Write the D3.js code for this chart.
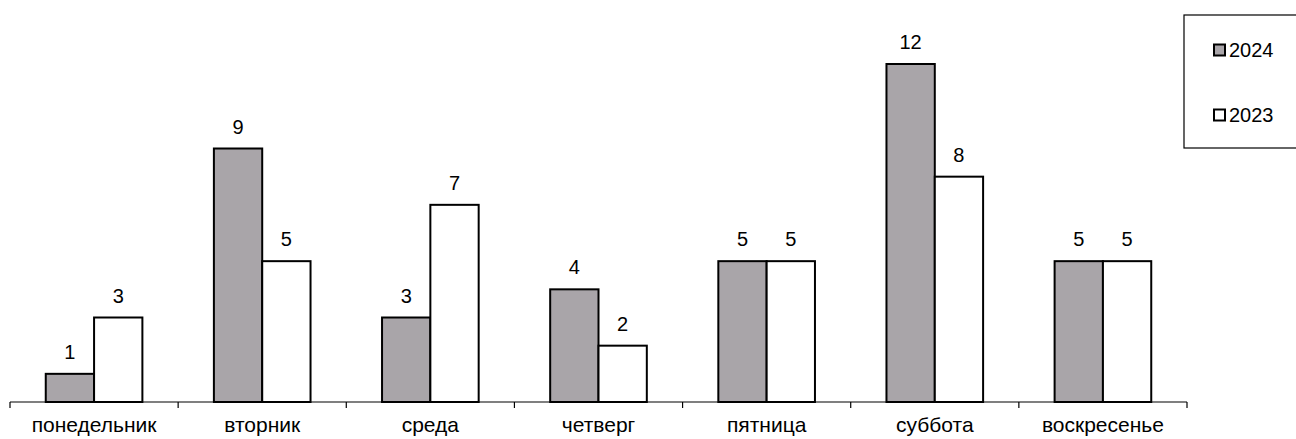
<!DOCTYPE html>
<html>
<head>
<meta charset="utf-8">
<script src="https://cdn.jsdelivr.net/npm/d3@7"></script>
<style>
  body { margin: 0; background: #fff; }
  text { font-family: "Liberation Sans", Arial, sans-serif; fill: #000; }
</style>
</head>
<body>
<svg id="chart" width="1296" height="439"></svg>
<script>
const days = ['понедельник', 'вторник', 'среда', 'четверг', 'пятница', 'суббота', 'воскресенье'];
const series = ['2024', '2023'];
const values2024 = [1, 9, 3, 4, 5, 12, 5];
const values2023 = [3, 5, 7, 2, 5, 8, 5];
const colors = ['#a9a5a9', '#ffffff'];

const data = days.map((d, i) => ({day: d, vals: [values2024[i], values2023[i]]}));

const svg = d3.select('#chart');

const x = d3.scaleBand().domain(days).range([10, 1187]);
const xs = d3.scaleBand().domain(series).range([0, x.bandwidth()]).paddingOuter(0.74);
const y = d3.scaleLinear().domain([0, 12]).range([402, 64]);

// bars
const grp = svg.selectAll('g.day')
  .data(data)
  .enter()
  .append('g')
  .attr('class', 'day')
  .attr('transform', d => 'translate(' + x(d.day) + ',0)');

grp.selectAll('rect')
  .data(d => d.vals.map((v, k) => ({s: series[k], v: v, k: k})))
  .enter()
  .append('rect')
  .attr('x', d => xs(d.s))
  .attr('y', d => y(d.v))
  .attr('width', xs.bandwidth())
  .attr('height', d => y(0) - y(d.v))
  .attr('fill', d => colors[d.k])
  .attr('stroke', '#000')
  .attr('stroke-width', 2);

grp.selectAll('text.val')
  .data(d => d.vals.map((v, k) => ({s: series[k], v: v})))
  .enter()
  .append('text')
  .attr('class', 'val')
  .attr('x', d => xs(d.s) + xs.bandwidth() / 2)
  .attr('y', d => y(d.v) - 15)
  .attr('text-anchor', 'middle')
  .attr('font-size', 20)
  .text(d => d.v);

// x axis
svg.append('line')
  .attr('x1', 10).attr('x2', 1187)
  .attr('y1', 402).attr('y2', 402)
  .attr('stroke', '#000').attr('stroke-width', 1.2);

const ticks = days.map(d => x(d)).concat([x.range()[1]]);
svg.selectAll('line.tick')
  .data(ticks)
  .enter()
  .append('line')
  .attr('class', 'tick')
  .attr('x1', d => d).attr('x2', d => d)
  .attr('y1', 402).attr('y2', 408)
  .attr('stroke', '#000').attr('stroke-width', 1.2);

svg.selectAll('text.cat')
  .data(days)
  .enter()
  .append('text')
  .attr('class', 'cat')
  .attr('x', d => x(d) + x.bandwidth() / 2)
  .attr('y', 432)
  .attr('text-anchor', 'middle')
  .attr('font-size', 21)
  .text(d => d);

// legend
const lg = svg.append('g');
lg.append('rect')
  .attr('x', 1184).attr('y', 15)
  .attr('width', 130).attr('height', 133)
  .attr('fill', '#fff').attr('stroke', '#000').attr('stroke-width', 1.2);

const items = lg.selectAll('g.item')
  .data(series)
  .enter()
  .append('g')
  .attr('class', 'item')
  .attr('transform', (d, i) => 'translate(1214,' + (50 + i * 65) + ')');

items.append('rect')
  .attr('x', 0).attr('y', -5.5)
  .attr('width', 11).attr('height', 11)
  .attr('fill', (d, i) => colors[i])
  .attr('stroke', '#000').attr('stroke-width', 2);

items.append('text')
  .attr('x', 15).attr('y', 7)
  .attr('font-size', 20)
  .text(d => d);
</script>
</body>
</html>
